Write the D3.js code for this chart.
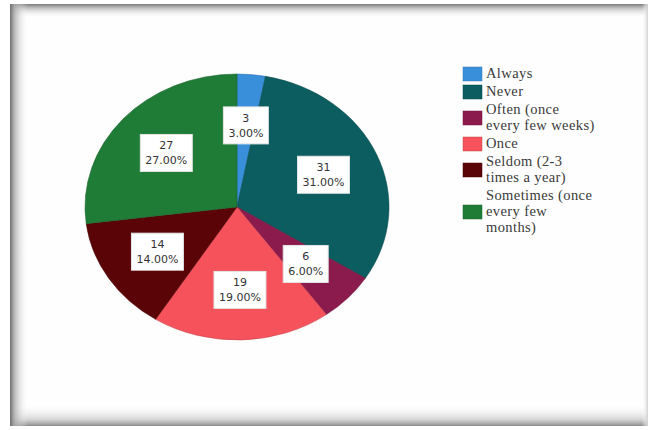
<!DOCTYPE html>
<html>
<head>
<meta charset="utf-8">
<script src="https://cdn.jsdelivr.net/npm/d3@7"></script>
<style>
  html, body { margin: 0; padding: 0; background: #ffffff; }
  svg { display: block; }
</style>
</head>
<body>
<svg id="chart" width="648" height="430"></svg>
<script>
// Survey responses: how often the event happens
const categories = [
  "Always",
  "Never",
  "Often (once every few weeks)",
  "Once",
  "Seldom (2-3 times a year)",
  "Sometimes (once every few months)"
];
const counts = [3, 31, 6, 19, 14, 27];
const percents = [3.0, 31.0, 6.0, 19.0, 14.0, 27.0];
const legendLines = [
  ["Always"],
  ["Never"],
  ["Often (once", "every few weeks)"],
  ["Once"],
  ["Seldom (2-3", "times a year)"],
  ["Sometimes (once", "every few", "months)"]
];
const sliceColors = ["#3a8fdb", "#0b5d5f", "#8c1b4d", "#f5525b", "#5a0407", "#1f7c37"];

const svg = d3.select("#chart");

// ---- framed panel with soft inner shadow ----
const defs = svg.append("defs");
function grad(id, x1, y1, x2, y2, stops) {
  const g = defs.append("linearGradient").attr("id", id)
    .attr("x1", x1).attr("y1", y1).attr("x2", x2).attr("y2", y2);
  stops.forEach(s => g.append("stop").attr("offset", s[0]).attr("stop-color", s[1]).attr("stop-opacity", s[2]));
}
grad("shL", 0, 0, 1, 0, [[0, "#6e6e6e", 1], [0.25, "#a8a8a8", 0.8], [1, "#ffffff", 0]]);
grad("shT", 0, 0, 0, 1, [[0, "#7a7a7a", 1], [0.35, "#b5b5b5", 0.7], [1, "#ffffff", 0]]);
grad("shB", 0, 0, 0, 1, [[0, "#ffffff", 0], [0.7, "#c4c4c4", 0.7], [1, "#8a8a8a", 1]]);
grad("shR", 0, 0, 1, 0, [[0, "#ffffff", 0], [1, "#d0d0d0", 1]]);

const frame = { x0: 10, y0: 4, x1: 648, y1: 426 };
svg.append("rect").attr("x", frame.x0).attr("y", frame.y0)
  .attr("width", frame.x1 - frame.x0).attr("height", frame.y1 - frame.y0)
  .attr("fill", "#fefefe");
svg.append("rect").attr("x", frame.x0).attr("y", frame.y0).attr("width", frame.x1 - frame.x0).attr("height", 14).attr("fill", "url(#shT)");
svg.append("rect").attr("x", frame.x0).attr("y", frame.y1 - 22).attr("width", frame.x1 - frame.x0).attr("height", 22).attr("fill", "url(#shB)");
svg.append("rect").attr("x", frame.x0).attr("y", frame.y0).attr("width", 18).attr("height", frame.y1 - frame.y0).attr("fill", "url(#shL)");
svg.append("rect").attr("x", frame.x1 - 6).attr("y", frame.y0).attr("width", 6).attr("height", frame.y1 - frame.y0).attr("fill", "url(#shR)");

// ---- pie (drawn as a circle, squashed vertically into an ellipse) ----
const cx = 237, cy = 207, rx = 152, ry = 133;
const data = categories.map((c, i) => ({ cat: c, count: counts[i], pct: percents[i], color: sliceColors[i] }));

const pie = d3.pie().value(d => d.count).sort(null).startAngle(0).endAngle(2 * Math.PI);
const arcs = pie(data);
const arc = d3.arc().innerRadius(0).outerRadius(rx);
const labelArc = d3.arc().innerRadius(rx * 0.62).outerRadius(rx * 0.62);

const pieG = svg.append("g").attr("transform", `translate(${cx},${cy}) scale(1,${ry / rx})`);
pieG.selectAll("path").data(arcs).join("path")
  .attr("d", arc)
  .attr("fill", d => d.data.color)
  .attr("stroke", d => d3.color(d.data.color).darker(0.6))
  .attr("stroke-width", 0.6);

// ---- value labels in white boxes ----
const fmt = d3.format(".2f");
const labG = svg.append("g").attr("font-family", "'DejaVu Sans', sans-serif").attr("font-size", 11).attr("fill", "#333");
arcs.forEach(a => {
  const [lx, ly] = labelArc.centroid(a);
  const px = cx + lx, py = cy + ly * ry / rx;
  const g = labG.append("g").attr("transform", `translate(${px},${py})`);
  const box = g.append("rect").attr("fill", "#ffffff").attr("stroke", "#e4e4e4").attr("stroke-width", 1);
  const t = g.append("text").attr("text-anchor", "middle");
  t.append("tspan").attr("x", 0).attr("y", -3).text(a.data.count);
  t.append("tspan").attr("x", 0).attr("y", 12).text(fmt(a.data.pct) + "%");
  const bb = t.node().getBBox();
  box.attr("x", bb.x - 5).attr("y", bb.y - 5).attr("width", bb.width + 10).attr("height", bb.height + 9);
});

// ---- legend ----
const legG = svg.append("g").attr("font-family", "'Liberation Serif', 'Times New Roman', serif")
  .attr("font-size", 14.5).attr("letter-spacing", 0.4).attr("fill", "#3a3a3a");
const lineH = 16, gap = 2;
let rowTop = 66;
data.forEach((d, i) => {
  const lines = legendLines[i];
  const blockH = lines.length * lineH;
  const mid = rowTop + blockH / 2;
  legG.append("rect").attr("x", 463).attr("y", mid - 7).attr("width", 19).attr("height", 14)
    .attr("fill", d.color).attr("stroke", d3.color(d.color).darker(0.5)).attr("stroke-width", 0.5);
  const t = legG.append("text");
  lines.forEach((ln, k) => {
    t.append("tspan").attr("x", 486).attr("y", rowTop + k * lineH + 12).text(ln);
  });
  rowTop += blockH + gap;
});
</script>
</body>
</html>
